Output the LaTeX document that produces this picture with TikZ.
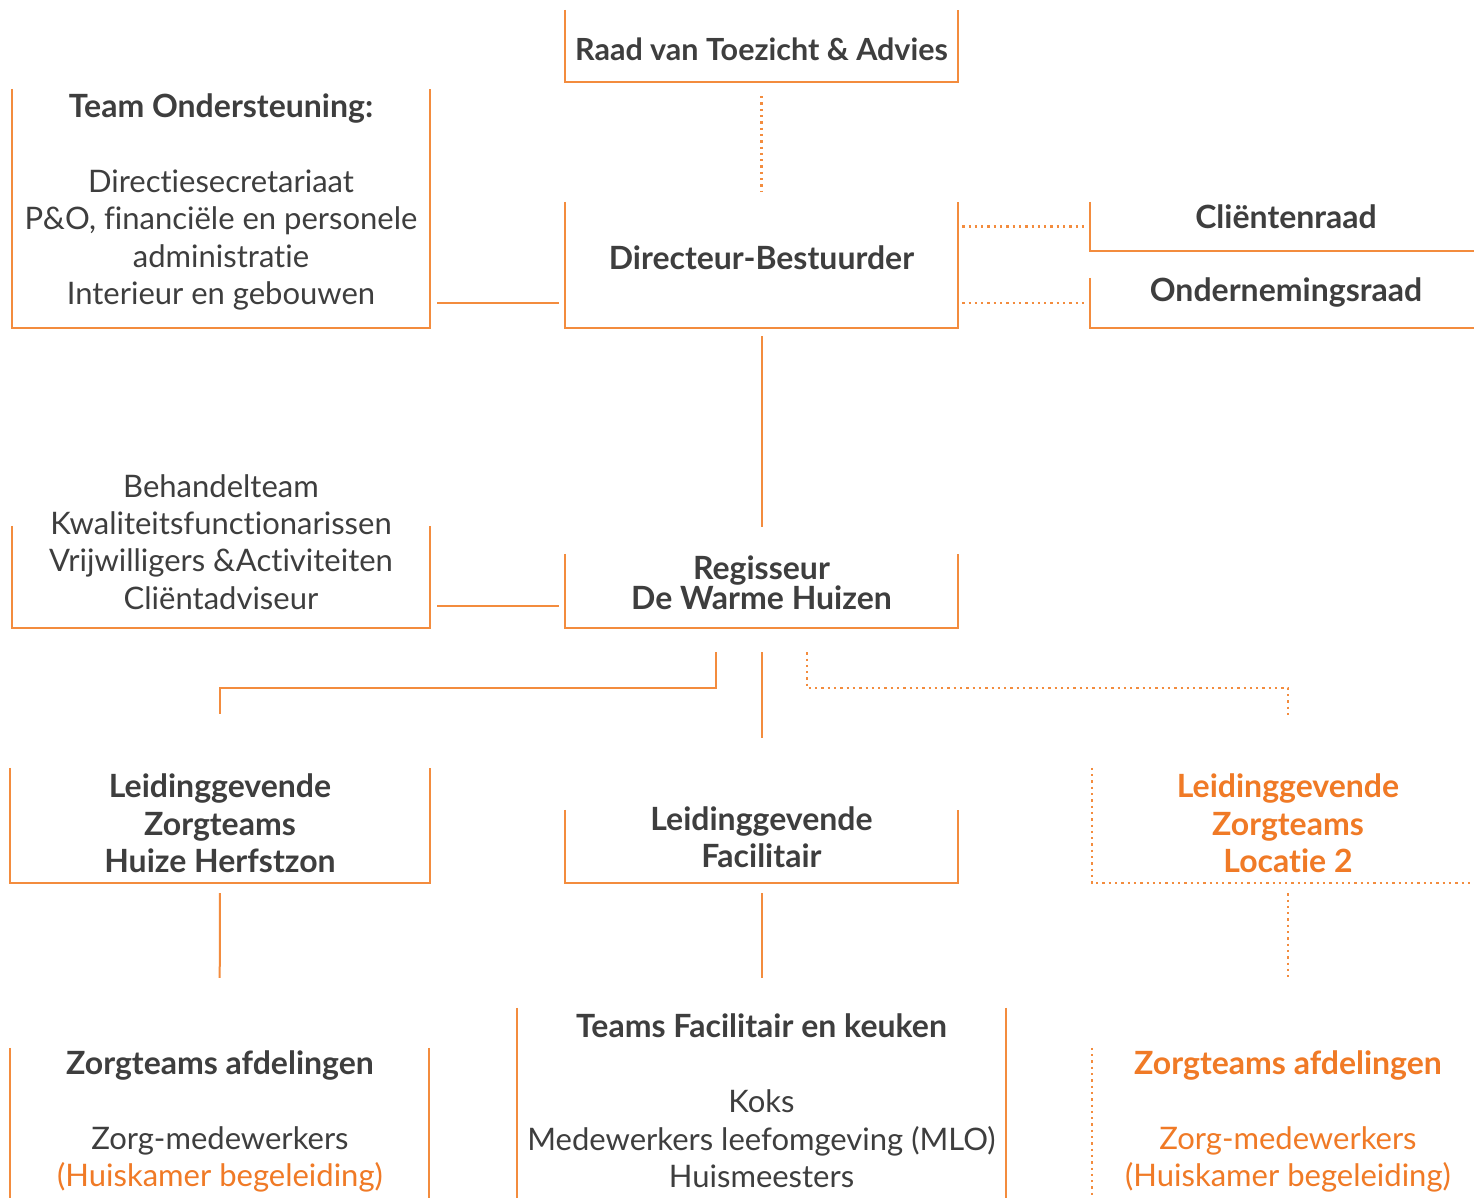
\documentclass[tikz,border=0pt]{standalone}
\usepackage{fontspec}
\setmainfont{Lato}[Ligatures=NoCommon]
\definecolor{lineor}{RGB}{243,140,62}
\definecolor{txtor}{RGB}{240,122,38}
\definecolor{txtgr}{RGB}{62,62,62}
\newcommand{\hdfont}{\fontsize{32}{37.4}\selectfont\bfseries}
\begin{document}
\begin{tikzpicture}[x=1pt,y=-1pt,
  boxnode/.style 2 args={minimum width=#1pt, minimum height=#2pt, inner sep=0pt, draw=none},
  edge/.style={draw=lineor, line width=2pt},
  dotline/.style={draw=lineor, line width=2.3pt, dash pattern=on 2.3pt off 4pt},
  lbl/.style={text=txtgr, align=center, inner sep=0pt, font=\fontsize{31}{37.4}\selectfont},
  hd/.style={lbl, font=\hdfont},
  hdor/.style={hd, text=txtor},
]
\useasboundingbox[fill=white] (0,0) rectangle (1474,1198);

% ---- boxes (geometry) ----
\node[boxnode={393}{72}] (raad) at (761.5,46) {};
\node[boxnode={393}{126}] (dir) at (761.5,265) {};
\node[boxnode={392}{49}] (cr) at (1286,226.5) {};
\node[boxnode={392}{50}] (or) at (1286,303) {};
\node[boxnode={418}{239}] (team) at (221,208.5) {};
\node[boxnode={418}{102}] (beh) at (221,577) {};
\node[boxnode={393}{74}] (reg) at (761.5,591) {};
\node[boxnode={420}{115}] (herf) at (220,825.5) {};
\node[boxnode={393}{73}] (fac) at (761.5,846.5) {};
\node[boxnode={392}{115}] (loc) at (1288,825.5) {};
\node[boxnode={419}{162}] (zorg) at (219.5,1129) {};
\node[boxnode={489}{202}] (tfk) at (761.5,1109) {};
\node[boxnode={392}{162}] (zorgb) at (1288,1129) {};

% ---- box outlines (open tops) ----
\draw[edge] (raad.north west) |- (raad.south east) -- (raad.north east);
\draw[edge] (dir.north west) |- (dir.south east) -- (dir.north east);
\draw[edge] (cr.north west) |- (cr.south east);
\draw[edge] (or.north west) |- (or.south east);
\draw[edge] (team.north west) |- (team.south east) -- (team.north east);
\draw[edge] (beh.north west) |- (beh.south east) -- (beh.north east);
\draw[edge] (reg.north west) |- (reg.south east) -- (reg.north east);
\draw[edge] (herf.north west) |- (herf.south east) -- (herf.north east);
\draw[edge] (fac.north west) |- (fac.south east) -- (fac.north east);
\draw[dotline] (loc.north west) |- (loc.south east);
\draw[edge] (zorg.north west) -- (zorg.south west);
\draw[edge] (zorg.north east) -- (zorg.south east);
\draw[edge] (tfk.north west) -- (tfk.south west);
\draw[edge] (tfk.north east) -- (tfk.south east);
\draw[dotline] (zorgb.north west) -- (zorgb.south west);

% ---- texts ----
\node[hd, font=\fontsize{30.5}{37.4}\selectfont\bfseries] (traad) at (761.5,49) {Raad van Toezicht \& Advies};
\node[hd] (tdir) at (761.5,258) {Directeur-Bestuurder};
\node[hd] (tcr) at (1286,217) {Cliëntenraad};
\node[hd] (tor) at (1286,292) {Ondernemingsraad};
\node[lbl] (tteam) at (221,202) {{\hdfont Team Ondersteuning:}\\[37.4pt]Directiesecretariaat\\P\&O, financiële en personele\\administratie\\Interieur en gebouwen};
\node[lbl] (tbeh) at (221,542) {Behandelteam\\Kwaliteitsfunctionarissen\\Vrijwilligers \&Activiteiten\\Cliëntadviseur};
\node[hd, font=\fontsize{32}{29}\selectfont\bfseries] (treg) at (761.5,583) {Regisseur\\De Warme Huizen};
\node[hd] (therf) at (220,823.5) {Leidinggevende\\Zorgteams\\Huize Herfstzon};
\node[hd] (tfac) at (761.5,837) {Leidinggevende\\Facilitair};
\node[hdor] (tloc) at (1288,823.5) {Leidinggevende\\Zorgteams\\Locatie 2};
\node[lbl] (tzorg) at (220,1121.5) {{\hdfont Zorgteams afdelingen}\\[37.4pt]Zorg-medewerkers\\\textcolor{txtor}{(Huiskamer begeleiding)}};
\node[lbl] (ttfk) at (761.5,1101) {{\hdfont Teams Facilitair en keuken}\\[37.4pt]Koks\\Medewerkers leefomgeving (MLO)\\Huismeesters};
\node[lbl, text=txtor] (tzorgb) at (1288,1121.5) {{\hdfont Zorgteams afdelingen}\\[37.4pt]Zorg-medewerkers\\(Huiskamer begeleiding)};

% ---- connectors ----
\draw[dotline, shorten <=14pt, shorten >=10pt] (raad.south) -- (dir.north);
\draw[dotline, shorten <=4pt, shorten >=4pt] (cr.west -| dir.east) -- (cr.west);
\draw[dotline, shorten <=4pt, shorten >=4pt] (or.west -| dir.east) -- (or.west);
\draw[edge, shorten <=7pt, shorten >=6pt] ([yshift=25pt]team.south east) -- ([yshift=25pt]dir.south west);
\draw[edge, shorten <=7pt, shorten >=6pt] ([yshift=22pt]beh.south east) -- ([yshift=22pt]reg.south west);
\draw[edge, shorten <=8pt, shorten >=27pt] (dir.south) -- (reg.north);
\draw[edge] ([xshift=-45.5pt,yshift=-24pt]reg.south) -- ++(0,36) -| ([yshift=54pt]herf.north);
\draw[edge, shorten <=24pt, shorten >=72pt] (reg.south) -- (fac.north);
\draw[dotline] ([xshift=45.5pt,yshift=-24pt]reg.south) -- ++(0,36) -| ([yshift=52pt]loc.north);
\draw[edge, shorten <=10pt, shorten >=70pt] (herf.south) -- (zorg.north);
\draw[edge, shorten <=10pt, shorten >=30pt] (fac.south) -- (tfk.north);
\draw[dotline, shorten <=10pt, shorten >=70pt] (loc.south) -- (zorgb.north);
\end{tikzpicture}
\end{document}
